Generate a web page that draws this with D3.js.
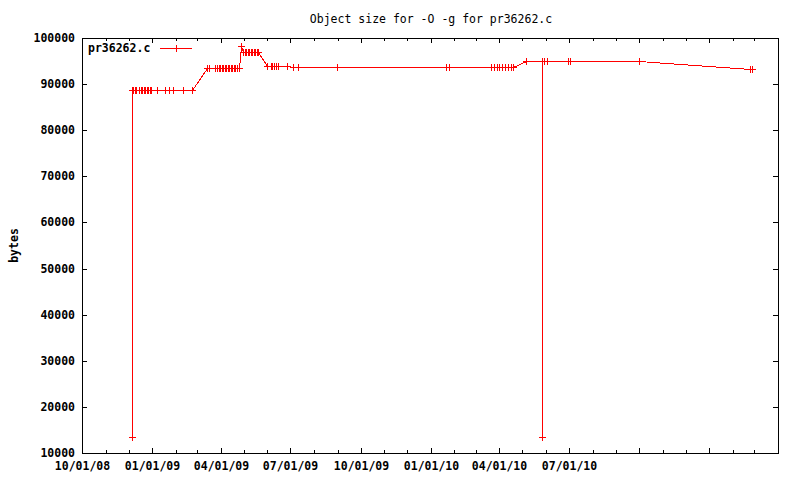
<!DOCTYPE html>
<html>
<head>
<meta charset="utf-8">
<script src="https://cdn.jsdelivr.net/npm/d3@7"></script>
<style>
  body { margin: 0; background: #fff; }
  svg { display: block; }
  text { font-family: "DejaVu Sans Mono", "Liberation Mono", monospace; fill: #000; }
  .tick-label { font-size: 11.5px; font-weight: bold; }
  .title { font-size: 11.5px; }
</style>
</head>
<body>
<svg id="chart" width="800" height="480"></svg>
<script>
// build dates / object sizes (bytes)
var buildDates = [
  "2008-12-05", "2008-12-05", "2008-12-07", "2008-12-09", "2008-12-11",
  "2008-12-15", "2008-12-17", "2008-12-19", "2008-12-21", "2008-12-23",
  "2008-12-25", "2008-12-27", "2008-12-29", "2008-12-31", "2009-01-07",
  "2009-01-18", "2009-01-23", "2009-01-28", "2009-02-10", "2009-02-22",
  "2009-03-14", "2009-03-16", "2009-03-24", "2009-03-27", "2009-03-29",
  "2009-03-31", "2009-04-02", "2009-04-04", "2009-04-06", "2009-04-08",
  "2009-04-10", "2009-04-12", "2009-04-14", "2009-04-16", "2009-04-18",
  "2009-04-20", "2009-04-22", "2009-04-25", "2009-04-27", "2009-04-30",
  "2009-05-02", "2009-05-04", "2009-05-06", "2009-05-08", "2009-05-10",
  "2009-05-12", "2009-05-14", "2009-05-16", "2009-05-18", "2009-05-19",
  "2009-06-01", "2009-06-05", "2009-06-07", "2009-06-10", "2009-06-12",
  "2009-06-15", "2009-06-26", "2009-07-04", "2009-07-11", "2009-08-31",
  "2010-01-21", "2010-01-25", "2010-03-21", "2010-03-25", "2010-03-29",
  "2010-03-31", "2010-04-04", "2010-04-08", "2010-04-12", "2010-04-16",
  "2010-04-19", "2010-05-06", "2010-05-27", "2010-05-27", "2010-05-27",
  "2010-05-30", "2010-06-02", "2010-06-30", "2010-07-02", "2010-10-01",
  "2011-02-23", "2011-02-26"
];
var objectSizes = [
  13500, 88700, 88700, 88700, 88700,
  88700, 88700, 88700, 88700, 88700,
  88700, 88700, 88700, 88700, 88700,
  88700, 88700, 88700, 88700, 88700,
  93500, 93500, 93500, 93500, 93500,
  93500, 93500, 93500, 93500, 93500,
  93500, 93500, 93500, 93500, 93500,
  93500, 93500, 93500, 98300, 97000,
  97000, 97000, 97000, 97000, 97000,
  97000, 97000, 97000, 97000, 97000,
  93900, 93900, 93900, 93900, 93900,
  93900, 93900, 93700, 93700, 93700,
  93700, 93700, 93700, 93700, 93700,
  93700, 93700, 93700, 93700, 93700,
  93700, 95000, 95000, 13500, 95000,
  95000, 95000, 95000, 95000, 95000,
  93300, 93200
];
var yTicks = [10000, 20000, 30000, 40000, 50000, 60000, 70000, 80000, 90000, 100000];
var xDomain = ["2008-10-01", "2011-04-01"];
var lastLabelled = "2010-07-01";
var seriesName = "pr36262.c";
var chartTitle = "Object size for -O -g for pr36262.c";
var yTitle = "bytes";

var width = 800, height = 480,
  margin = {top: 38, right: 22, bottom: 27, left: 82};
var red = "#ff0000";

var svg = d3.select("#chart");
var parse = d3.utcParse("%Y-%m-%d");

var data = buildDates.map(function(d, i){
  return {date: parse(d), size: objectSizes[i]};
});

var x = d3.scaleUtc()
  .domain(xDomain.map(parse))
  .range([margin.left, width - margin.right]);
var y = d3.scaleLinear()
  .domain([10000, 100000])
  .range([height - margin.bottom, margin.top]);

var x0 = margin.left, x1 = width - margin.right,
  y0 = height - margin.bottom, y1 = margin.top;

var axes = svg.append("g").attr("shape-rendering", "crispEdges")
  .attr("stroke", "#000").attr("stroke-width", 1);

//Y ticks, mirrored on the right
yTicks.forEach(function(v){
  var py = Math.round(y(v)) + 0.5;
  axes.append("line").attr("x1", x0).attr("x2", x0 + 5).attr("y1", py).attr("y2", py);
  axes.append("line").attr("x1", x1 - 5).attr("x2", x1).attr("y1", py).attr("y2", py);
  svg.append("text")
    .attr("class", "tick-label")
    .attr("x", x0 - 7)
    .attr("y", py - 1)
    .attr("dy", "0.35em")
    .attr("text-anchor", "end")
    .text(v);
});

//X ticks: quarters major, months minor, top mirrored
var fmt = d3.utcFormat("%m/%d/%y");
x.ticks(d3.utcMonth.every(1)).forEach(function(d){
  var px = Math.round(x(d)) + 0.5;
  var major = d.getUTCMonth() % 3 === 0;
  var len = major ? 5 : 3;
  axes.append("line").attr("x1", px).attr("x2", px).attr("y1", y0).attr("y2", y0 - len);
  axes.append("line").attr("x1", px).attr("x2", px).attr("y1", y1).attr("y2", y1 + len);
  if (major && d <= parse(lastLabelled)){
    svg.append("text")
      .attr("class", "tick-label")
      .attr("x", px)
      .attr("y", y0 + 17)
      .attr("text-anchor", "middle")
      .text(fmt(d));
  }
});

//Border
axes.append("rect")
  .attr("x", x0 + 0.5).attr("y", y1 + 0.5)
  .attr("width", x1 - x0).attr("height", y0 - y1)
  .attr("fill", "none");

//Series line
var line = d3.line()
  .x(function(d){ return Math.round(x(d.date)) + 0.5; })
  .y(function(d){ return Math.round(y(d.size)) + 0.5; });

var plot = svg.append("g").attr("shape-rendering", "crispEdges");
plot.append("path")
  .datum(data)
  .attr("d", line)
  .attr("fill", "none")
  .attr("stroke", red)
  .attr("stroke-width", 1);

var plus = function(g, cx, cy){
  g.append("path")
    .attr("d", "M" + (cx - 3.5) + "," + cy + "H" + (cx + 3.5) + "M" + cx + "," + (cy - 3.5) + "V" + (cy + 3.5))
    .attr("stroke", red)
    .attr("stroke-width", 1)
    .attr("fill", "none");
};
data.forEach(function(d){
  plus(plot, Math.round(x(d.date)) + 0.5, Math.round(y(d.size)) + 0.5);
});

//Legend
svg.append("text")
  .attr("class", "tick-label")
  .attr("x", 88)
  .attr("y", 48)
  .attr("dy", "0.35em")
  .text(seriesName);
plot.append("line")
  .attr("x1", 160).attr("x2", 192)
  .attr("y1", 48.5).attr("y2", 48.5)
  .attr("stroke", red);
plus(plot, 176.5, 48.5);

//Title
svg.append("text")
  .attr("class", "title")
  .attr("x", (x0 + x1) / 2 + 1)
  .attr("y", 23)
  .attr("text-anchor", "middle")
  .text(chartTitle);

//Y axis title
svg.append("text")
  .attr("class", "tick-label")
  .attr("transform", "translate(18," + ((y0 + y1) / 2) + ") rotate(-90)")
  .attr("text-anchor", "middle")
  .text(yTitle);
</script>
</body>
</html>
